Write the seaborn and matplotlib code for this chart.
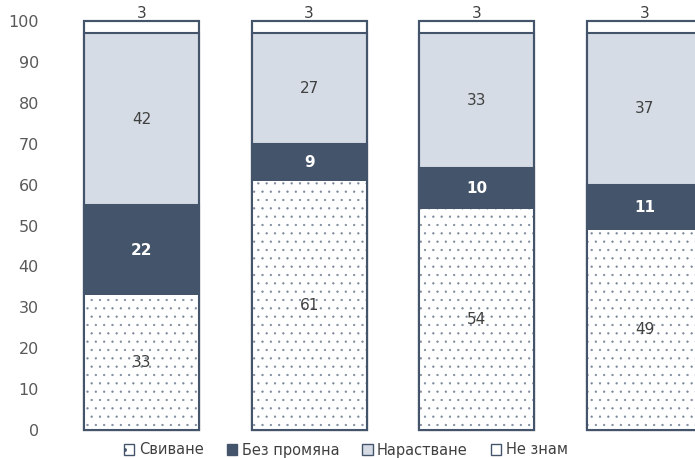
import numpy as np
import pandas as pd
import matplotlib
matplotlib.use("Agg")
import matplotlib.pyplot as plt
import seaborn as sns
from matplotlib.patches import Patch

# Chart values (percent), one entry per bar
groups = ["1", "2", "3", "4"]
svivane = [33, 61, 54, 49]          # Свиване
bez_promyana = [22, 9, 10, 11]      # Без промяна
narastvane = [42, 27, 33, 37]       # Нарастване
ne_znam = [3, 3, 3, 3]              # Не знам
series_names = ["Свиване", "Без промяна", "Нарастване", "Не знам"]
y_ticks = [0, 10, 20, 30, 40, 50, 60, 70, 80, 90, 100]

dark = "#44546A"
light = "#D6DCE5"
dots = "#7C879A"
text_col = "#404040"

sns.set_style("white")
plt.rcParams["font.family"] = ["DejaVu Sans"]
plt.rcParams["hatch.linewidth"] = 0.4

df = pd.DataFrame({
    "group": groups,
    "s1": svivane,
    "s2": bez_promyana,
    "s3": narastvane,
    "s4": ne_znam,
})
df["c1"] = df["s1"]
df["c2"] = df["c1"] + df["s2"]
df["c3"] = df["c2"] + df["s3"]
df["c4"] = df["c3"] + df["s4"]

fig = plt.figure(figsize=(6.95, 4.58), dpi=100)
ax = fig.add_axes([50 / 695, 28 / 458, 1 - 50 / 695, 409 / 458])

bw = 0.687
common = dict(x="group", ax=ax, width=bw, saturation=1, clip_on=False)
# stacked by drawing cumulative totals from the top down
sns.barplot(data=df, y="c4", color="white", edgecolor=dark, linewidth=1.5, **common)
sns.barplot(data=df, y="c3", color=light, edgecolor=dark, linewidth=1.5, **common)
sns.barplot(data=df, y="c2", color=dark, edgecolor=dark, linewidth=1.5, **common)
# dotted bottom segment: hatch layer in a lighter tone, then the dark outline
sns.barplot(data=df, y="c1", color="white", edgecolor=dots, linewidth=0,
            hatch="..", **common)
sns.barplot(data=df, y="c4", fill=False, edgecolor=dark, linewidth=1.5, **common)

# segment labels
for i in range(len(groups)):
    c1, c2, c3 = df.loc[i, "c1"], df.loc[i, "c2"], df.loc[i, "c3"]
    ax.text(i, c1 / 2, f"{svivane[i]}", ha="center", va="center",
            fontsize=11, color=text_col)
    ax.text(i, (c1 + c2) / 2, f"{bez_promyana[i]}", ha="center", va="center",
            fontsize=11, color="white", fontweight="bold")
    ax.text(i, (c2 + c3) / 2, f"{narastvane[i]}", ha="center", va="center",
            fontsize=11, color=text_col)
    ax.text(i, 101.8, f"{ne_znam[i]}", ha="center", va="center",
            fontsize=11, color=text_col)

ax.set_ylim(0, 100)
ax.set_xlim((50 - 141.5) / 167.67, (695 - 141.5) / 167.67)
ax.set_yticks(y_ticks)
ax.tick_params(axis="y", labelsize=11.5, labelcolor="#595959", length=0, pad=8)
ax.set_xticks([])
ax.set_xlabel("")
ax.set_ylabel("")
sns.despine(ax=ax, left=True, bottom=True)

handles = [
    Patch(facecolor="white", edgecolor=dark, hatch=".", linewidth=1),
    Patch(facecolor=dark, edgecolor=dark, linewidth=1),
    Patch(facecolor=light, edgecolor=dark, linewidth=1),
    Patch(facecolor="white", edgecolor=dark, linewidth=1),
]
fig.legend(handles, series_names, loc="center", bbox_to_anchor=(346 / 695, 1 - 450 / 458),
           ncol=4, frameon=False, fontsize=10.5, handlelength=0.7, handleheight=0.7,
           handletextpad=0.3, columnspacing=1.6, labelcolor=text_col)

fig.savefig("out.png", dpi=100)
